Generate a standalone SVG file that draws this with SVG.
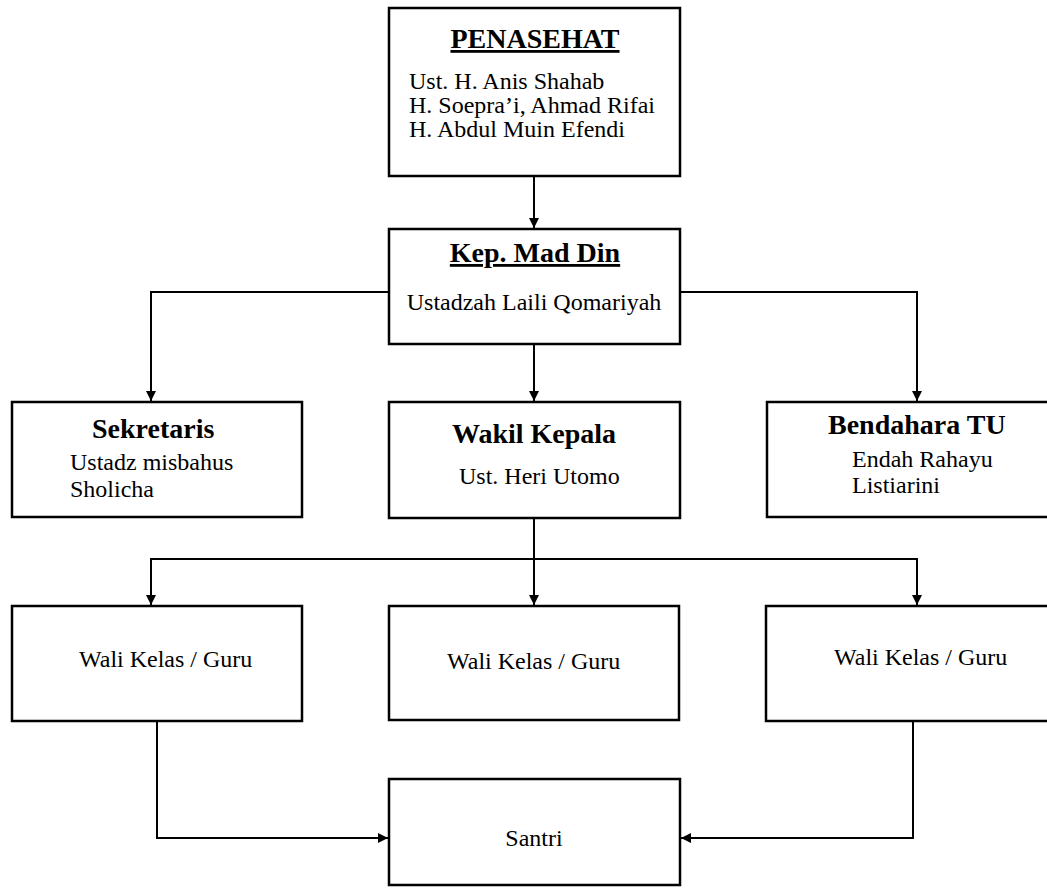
<svg xmlns="http://www.w3.org/2000/svg" width="1047" height="890" viewBox="0 0 1047 890">
<style>
.box{fill:#fff;stroke:#000;stroke-width:2.5}
.t{font-family:"Liberation Serif","Times New Roman",serif;font-size:24px;fill:#000}
.b{font-family:"Liberation Serif","Times New Roman",serif;font-size:28px;font-weight:bold;fill:#000}
.u{text-decoration:underline}
.c{text-anchor:middle}
.ln{fill:none;stroke:#000;stroke-width:2}
</style>
<defs>
<marker id="ah" viewBox="0 0 10 10" refX="10" refY="5" markerWidth="10" markerHeight="10" markerUnits="userSpaceOnUse" orient="auto">
<path d="M0,0 L10,5 L0,10 Z" fill="#000"/>
</marker>
</defs>
<g id="connectors">
<path class="ln" d="M534,176 V228" marker-end="url(#ah)"/>
<path class="ln" d="M389,292 H151 V401" marker-end="url(#ah)"/>
<path class="ln" d="M679,292 H917 V401" marker-end="url(#ah)"/>
<path class="ln" d="M534,344 V401" marker-end="url(#ah)"/>
<path class="ln" d="M534,518 V605" marker-end="url(#ah)"/>
<path class="ln" d="M534,559 H151 V605" marker-end="url(#ah)"/>
<path class="ln" d="M534,559 H917 V605" marker-end="url(#ah)"/>
<path class="ln" d="M157,721 V838 H388" marker-end="url(#ah)"/>
<path class="ln" d="M913,721 V838 H681" marker-end="url(#ah)"/>
</g>
<g id="penasehat">
<rect class="box" x="389" y="8" width="291" height="168"/>
<text class="b u c" x="535" y="48">PENASEHAT</text>
<text class="t" x="409" y="89">Ust. H. Anis Shahab</text>
<text class="t" x="409" y="113">H. Soepra’i, Ahmad Rifai</text>
<text class="t" x="409" y="137">H. Abdul Muin Efendi</text>
</g>
<g id="kepala">
<rect class="box" x="389" y="229" width="291" height="115"/>
<text class="b u c" x="535" y="262">Kep. Mad Din</text>
<text class="t c" x="534" y="310">Ustadzah Laili Qomariyah</text>
</g>
<g id="sekretaris">
<rect class="box" x="12" y="402" width="290" height="115"/>
<text class="b" x="92" y="438">Sekretaris</text>
<text class="t" x="70" y="470">Ustadz misbahus</text>
<text class="t" x="70" y="497">Sholicha</text>
</g>
<g id="wakil">
<rect class="box" x="389" y="402" width="291" height="116"/>
<text class="b c" x="534" y="443">Wakil Kepala</text>
<text class="t" x="459" y="484">Ust. Heri Utomo</text>
</g>
<g id="bendahara">
<rect class="box" x="767" y="402" width="290" height="115"/>
<text class="b" x="828" y="434">Bendahara TU</text>
<text class="t" x="852" y="467">Endah Rahayu</text>
<text class="t" x="852" y="493">Listiarini</text>
</g>
<g id="wali1">
<rect class="box" x="12" y="606" width="290" height="115"/>
<text class="t" x="79" y="667">Wali Kelas / Guru</text>
</g>
<g id="wali2">
<rect class="box" x="389" y="606" width="290" height="114"/>
<text class="t" x="447" y="669">Wali Kelas / Guru</text>
</g>
<g id="wali3">
<rect class="box" x="766" y="606" width="290" height="115"/>
<text class="t" x="834" y="665">Wali Kelas / Guru</text>
</g>
<g id="santri">
<rect class="box" x="389" y="779" width="291" height="106"/>
<text class="t c" x="534" y="846">Santri</text>
</g>
</svg>
